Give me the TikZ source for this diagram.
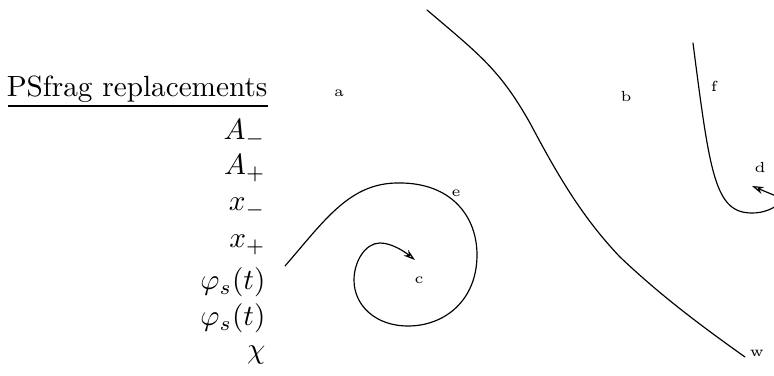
\documentclass[tikz,border=0pt]{standalone}
\usepackage{tikz}
\usetikzlibrary{arrows.meta, positioning}

\begin{document}
\begin{tikzpicture}[x=0.342pt, y=-0.342pt,
        repl/.style={anchor=base east, inner sep=0pt},
        tag/.style={font=\tiny, inner sep=0pt},
        curve/.style={line width=0.4pt, line cap=round},
        tip/.style={-{Stealth[length=4pt, width=2.5pt, open]}}]
        \useasboundingbox (0,0) rectangle (774,376);
        \clip (0,0) rectangle (774,376);
%
        \node[repl] (title) at (268,97) {PSfrag replacements};
        \draw[line width=0.4pt] (8,106) -- (268,106);
        \node[repl] (Am) at (266,140) {$A_-$};
        \node[repl] (Ap) at (266,175) {$A_+$};
        \node[repl] (xm) at (266,211) {$x_-$};
        \node[repl] (xp) at (266,248) {$x_+$};
        \node[repl] (phi1) at (266,290) {$\varphi_s(t)$};
        \node[repl] (phi2) at (266,326) {$\varphi_s(t)$};
        \node[repl] (chi) at (266,359) {$\chi$};
%
        \node[tag] (a) at (339,93) {a};
        \node[tag] (b) at (626,97) {b};
        \node[tag] (f) at (714,86) {f};
        \node[tag] (d) at (760,168) {d};
        \node[tag] (e) at (456,193) {e};
        \node[tag] (c) at (419,280) {c};
        \node[tag] (w) at (757,353) {w};
%
        % separatrix
        \draw[curve] (427,10) .. controls (480,55) and (500,70) .. (530,123)
            .. controls (555,170) and (580,215) .. (620,257)
            .. controls (660,295) and (700,325) .. (745,357);
        % spiral
        \draw[curve, tip] (285,266) .. controls (325,220) and (350,182) .. (400,183)
            .. controls (450,183) and (477,215) .. (477,255)
            .. controls (477,300) and (445,326) .. (408,326)
            .. controls (375,326) and (354,305) .. (354,280)
            .. controls (354,262) and (365,243) .. (380,243)
            .. controls (392,243) and (405,252) .. (415,260);
        % hook
        \draw[curve] (693,43) .. controls (710,175) and (715,213) .. (752,213)
            .. controls (762,213) and (770,210) .. (776,206);
        \draw[curve, tip] (776,196) -- (752,186);
\end{tikzpicture}
\end{document}
